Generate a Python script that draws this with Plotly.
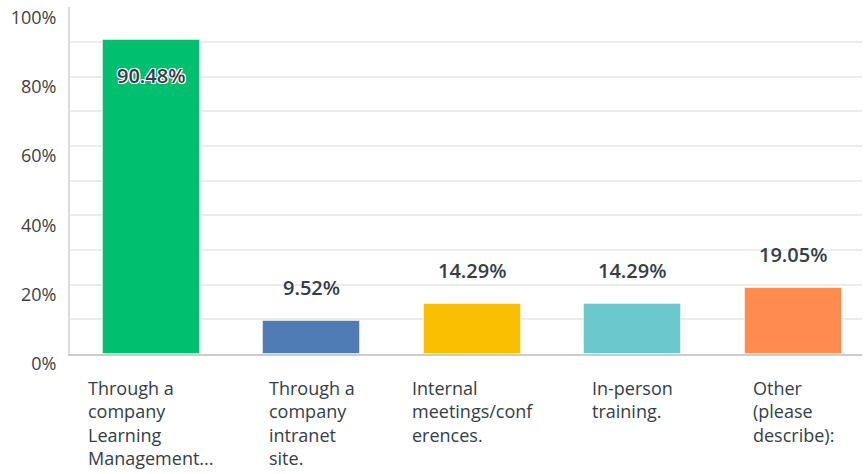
import plotly.graph_objects as go

categories = [
    "Through a<br>company<br>Learning<br>Management...",
    "Through a<br>company<br>intranet<br>site.",
    "Internal<br>meetings/conf<br>erences.",
    "In-person<br>training.",
    "Other<br>(please<br>describe):",
]
values = [90.48, 9.52, 14.29, 14.29, 19.05]
value_labels = ["90.48%", "9.52%", "14.29%", "14.29%", "19.05%"]
colors = ["#00BF6F", "#507CB6", "#F9BE00", "#6BC8CD", "#FF8B4F"]
tick_vals = [0, 20, 40, 60, 80, 100]
tick_text = ["0%", "20%", "40%", "60%", "80%", "100%"]
grid_vals = [10, 20, 30, 40, 50, 60, 70, 80, 90]

FONT = "Open Sans"
xs = list(range(len(values)))

fig = go.Figure()
fig.add_trace(go.Bar(
    x=xs, y=values, width=0.605,
    marker=dict(color=colors, line=dict(color="rgba(255,255,255,0.5)", width=1)),
    hoverinfo="skip", showlegend=False,
))
# invisible trace on overlay axis to host the gridlines
fig.add_trace(go.Scatter(x=[xs[0]], y=[0], yaxis="y2", mode="markers",
                         marker=dict(opacity=0), hoverinfo="skip", showlegend=False))

annotations = []
for i, (v, lab) in enumerate(zip(values, value_labels)):
    if v > 50:
        annotations.append(dict(
            x=i, y=v, xref="x", yref="y", text=lab, showarrow=False,
            yanchor="top", yshift=-20,
            font=dict(family=FONT, size=20, color="#333e48", weight=600,
                      shadow="-1px -1px 0 #fff, 1px -1px 0 #fff, -1px 1px 0 #fff, 1px 1px 0 #fff"),
        ))
    else:
        annotations.append(dict(
            x=i, y=v, xref="x", yref="y", text=lab, showarrow=False,
            yanchor="bottom", yshift=18,
            font=dict(family=FONT, size=20, color="#333e48", weight=600),
        ))
for i, cat in enumerate(categories):
    annotations.append(dict(
        x=i, y=0, xref="x", yref="y", text=cat, showarrow=False,
        yanchor="top", yshift=-20, align="left",
        font=dict(family=FONT, size=18, color="#333e48"),
    ))

fig.update_layout(
    width=864, height=474,
    margin=dict(l=70, r=2, t=7, b=120),
    paper_bgcolor="white", plot_bgcolor="white",
    bargap=0,
    xaxis=dict(range=[-0.508, 4.43], showticklabels=False, showgrid=False,
               zeroline=False, showline=True, linecolor="#cccccc", linewidth=2,
               ticks="", fixedrange=True),
    yaxis=dict(range=[0, 100.1], tickvals=tick_vals, ticktext=tick_text,
               showgrid=False, zeroline=False, showline=True,
               linecolor="#dddddd", linewidth=2, ticks="",
               ticklabelshift=10, ticklabelstandoff=8,
               tickfont=dict(family=FONT, size=18, color="#3f3f3f")),
    yaxis2=dict(range=[0, 100.1], overlaying="y", tickvals=grid_vals,
                showticklabels=False, showgrid=True, gridcolor="#ececec",
                gridwidth=1.5, zeroline=False, showline=False, ticks=""),
    annotations=annotations,
)

fig.write_html("out.html", config={"displayModeBar": False},
               post_script="document.body.style.margin='0';document.body.style.overflow='hidden';")
